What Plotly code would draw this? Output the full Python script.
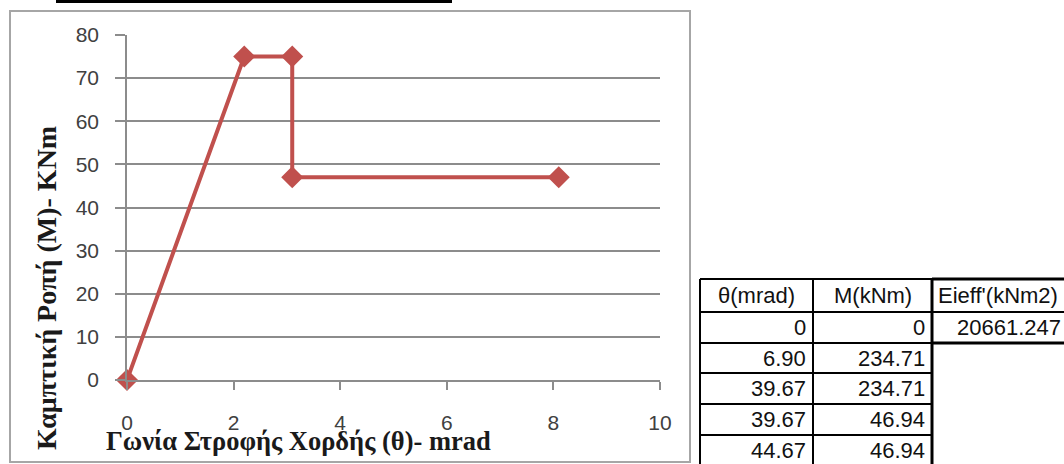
import plotly.graph_objects as go

# Moment–rotation curve (chart data)
theta_chart = [0, 2.2, 3.1, 3.1, 8.1]
moment_chart = [0, 75, 75, 47, 47]

# Table data
table_headers = ["θ(mrad)", "M(kNm)", "Eieff'(kNm2)"]
theta_table = ["0", "6.90", "39.67", "39.67", "44.67"]
moment_table = ["0", "234.71", "234.71", "46.94", "46.94"]
eieff_table = ["20661.247"]

x_ticks = [0, 2, 4, 6, 8, 10]
y_ticks = [0, 10, 20, 30, 40, 50, 60, 70, 80]

W, H = 1064, 464
L, R, T, B = 127, 660, 35, 380  # plot area edges in pixels

def fx(px):
    return (px - L) / (R - L)

def fy(py):
    return (B - py) / (B - T)

RED = "#C0504D"
GRID = "#8c8c8c"

fig = go.Figure()
fig.add_trace(go.Scatter(
    x=theta_chart, y=moment_chart, mode="lines+markers",
    line=dict(color=RED, width=4),
    marker=dict(symbol="diamond", size=17, color=RED),
    cliponaxis=False, showlegend=False, hoverinfo="skip",
))

shapes = []
annotations = []

def label(text, px, py, font, xanchor="center", angle=0):
    annotations.append(dict(text=text, xref="paper", yref="paper",
                            x=fx(px), y=fy(py), xanchor=xanchor, yanchor="middle",
                            showarrow=False, textangle=angle, font=font))

# underline bar at the very top
shapes.append(dict(type="rect", xref="paper", yref="paper",
                   x0=fx(56), x1=fx(452), y0=fy(0), y1=fy(3),
                   fillcolor="black", line=dict(width=0), layer="above"))
# chart frame
shapes.append(dict(type="rect", xref="paper", yref="paper",
                   x0=fx(10), x1=fx(690), y0=fy(11), y1=fy(462),
                   line=dict(color="#a6a6a6", width=2), fillcolor="rgba(0,0,0,0)"))

# axis titles
label("<b>Γωνία Στροφής Χορδής (θ)- mrad</b>", 298, 441,
      dict(family="Liberation Serif", size=26.5, color="#1a1a1a"))
label("<b>Καμπτική Ροπή (Μ)- ΚΝm</b>", 46, 288,
      dict(family="Liberation Serif", size=28, color="#1a1a1a"), angle=-90)

# table grid
col_x = [700, 813, 932, 1070]
row_y = [279, 312, 343, 373, 404, 435, 470]
LW = 2
def hline(y, x0, x1, w=LW):
    shapes.append(dict(type="line", xref="paper", yref="paper",
                       x0=fx(x0), x1=fx(x1), y0=fy(y), y1=fy(y),
                       line=dict(color="black", width=w)))
def vline(x, y0, y1, w=LW):
    shapes.append(dict(type="line", xref="paper", yref="paper",
                       x0=fx(x), x1=fx(x), y0=fy(y0), y1=fy(y1),
                       line=dict(color="black", width=w)))

for y in row_y[:-1]:
    hline(y, col_x[0], col_x[2])
vline(col_x[0], row_y[0], row_y[-1])
vline(col_x[1], row_y[0], row_y[-1])
vline(col_x[2], row_y[0], row_y[-1], w=3)
# box around the stiffness column
hline(row_y[0], col_x[2], col_x[3], w=3)
hline(row_y[1], col_x[2], col_x[3], w=2)
hline(row_y[2], col_x[2], col_x[3], w=3)

tfont = dict(family="Liberation Sans", size=22, color="#111111")
hy = (row_y[0] + row_y[1]) / 2
label(table_headers[0], (col_x[0] + col_x[1]) / 2, hy, tfont)
label(table_headers[1], (col_x[1] + col_x[2]) / 2, hy, tfont)
label(table_headers[2], col_x[2] + 4, hy, tfont, xanchor="left")
row_centers = [327.5, 358, 388.5, 419.5, 450]
for yc, t, m in zip(row_centers, theta_table, moment_table):
    label(t, col_x[1] - 5, yc, tfont, xanchor="right")
    label(m, col_x[2] - 5, yc, tfont, xanchor="right")
for yc, e in zip(row_centers, eieff_table):
    label(e, 955, yc, tfont, xanchor="left")

tick_font = dict(family="Liberation Sans", size=21, color="#404040")
fig.update_layout(
    width=W, height=H,
    margin=dict(l=L, r=W - R, t=T, b=H - B, pad=0),
    paper_bgcolor="white", plot_bgcolor="white",
    xaxis=dict(range=[0, 10], tickvals=x_ticks, showgrid=False, zeroline=False,
               showline=True, linecolor=GRID, linewidth=1.5,
               ticks="outside", ticklen=8, tickcolor=GRID, tickwidth=1.5,
               ticklabelstandoff=15, tickfont=tick_font, fixedrange=True),
    yaxis=dict(range=[0, 80], tickvals=y_ticks, showgrid=True, gridcolor=GRID, gridwidth=1.5,
               zeroline=False, showline=True, linecolor=GRID, linewidth=1.5,
               ticks="outside", ticklen=10, tickcolor=GRID, tickwidth=1.5,
               ticklabelstandoff=12, tickfont=tick_font, fixedrange=True),
    shapes=shapes, annotations=annotations,
)

fig.write_html("out.html")
